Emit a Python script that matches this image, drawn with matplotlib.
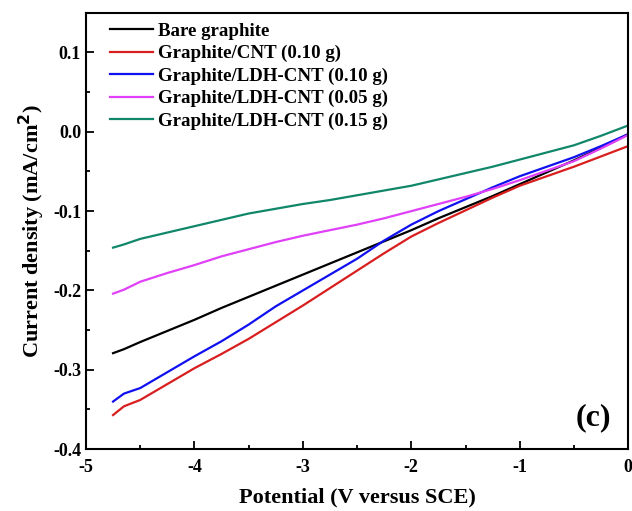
import numpy as np
import matplotlib
matplotlib.use("Agg")
import matplotlib.pyplot as plt
from matplotlib.ticker import MultipleLocator

plt.rcParams['font.family'] = ['Liberation Serif', 'DejaVu Serif']
plt.rcParams['font.weight'] = 'bold'

# potential (V vs SCE)
potential = [-4.75, -4.65, -4.5, -4.25, -4.0, -3.75, -3.5, -3.25, -3.0, -2.75, -2.5,
             -2.25, -2.0, -1.75, -1.5, -1.25, -1.0, -0.75, -0.5, -0.25, 0.0]

bare = [-0.279, -0.274, -0.265, -0.251, -0.237, -0.222, -0.208, -0.194, -0.180, -0.166, -0.152,
        -0.138, -0.124, -0.109, -0.095, -0.081, -0.066, -0.051, -0.036, -0.020, -0.003]
cnt = [-0.357, -0.346, -0.338, -0.318, -0.298, -0.280, -0.261, -0.240, -0.219, -0.197, -0.175,
       -0.153, -0.132, -0.115, -0.099, -0.083, -0.068, -0.056, -0.044, -0.031, -0.018]
ldh_010 = [-0.340, -0.330, -0.323, -0.303, -0.283, -0.264, -0.243, -0.220, -0.200, -0.180, -0.160,
           -0.137, -0.117, -0.100, -0.085, -0.070, -0.056, -0.044, -0.032, -0.018, -0.003]
ldh_005 = [-0.204, -0.199, -0.189, -0.178, -0.168, -0.157, -0.148, -0.139, -0.131, -0.124, -0.117,
           -0.109, -0.100, -0.091, -0.082, -0.072, -0.061, -0.049, -0.037, -0.021, -0.004]
ldh_015 = [-0.146, -0.142, -0.135, -0.127, -0.119, -0.111, -0.103, -0.097, -0.091, -0.086, -0.080,
           -0.074, -0.068, -0.060, -0.052, -0.044, -0.035, -0.026, -0.017, -0.005, 0.008]

series = [
    (bare, "Bare graphite", "#000000"),
    (cnt, "Graphite/CNT (0.10 g)", "#d81e1e"),
    (ldh_010, "Graphite/LDH-CNT (0.10 g)", "#1010f0"),
    (ldh_005, "Graphite/LDH-CNT (0.05 g)", "#e040f8"),
    (ldh_015, "Graphite/LDH-CNT (0.15 g)", "#11876a"),
]

fig = plt.figure(figsize=(6.32, 5.11), dpi=100)
ax = fig.add_axes([0.136, 0.121, 0.858, 0.854])

for y, label, color in series:
    ax.plot(potential, y, color=color, lw=1.6, label=label)

ax.set_xlim(-5, 0)
ax.set_ylim(-0.4, 0.15)
ax.xaxis.set_major_locator(MultipleLocator(1))
ax.xaxis.set_minor_locator(MultipleLocator(0.5))
ax.yaxis.set_major_locator(MultipleLocator(0.1))
ax.yaxis.set_minor_locator(MultipleLocator(0.05))
ax.tick_params(which='both', direction='in', top=False, right=False, width=1.3, labelsize=13)
ax.tick_params(which='major', length=6)
ax.tick_params(which='minor', length=3)
ax.tick_params(axis='x', pad=7)
ax.xaxis.set_major_formatter(plt.FuncFormatter(lambda v, p: "%g" % v))
ax.yaxis.set_major_formatter(plt.FuncFormatter(lambda v, p: "%.1f" % v))
for s in ax.spines.values():
    s.set_linewidth(1.5)

ax.set_xlabel("Potential (V versus SCE)", fontsize=16, fontweight='bold', labelpad=8)
ax.set_ylabel("Current density (mA/cm$^\\mathbf{2}$)", fontsize=16, fontweight='bold', labelpad=4)

ax.legend(loc='upper left', bbox_to_anchor=(0.044, 0.977), frameon=False,
          handlelength=2.3, handletextpad=0.25, labelspacing=0.27,
          borderaxespad=0, borderpad=0, prop={'weight': 'bold', 'size': 13.6})
ax.text(0.969, 0.038, "(c)", transform=ax.transAxes, fontsize=23, fontweight='bold',
        ha='right', va='bottom')

fig.savefig("out.png", dpi=100)
